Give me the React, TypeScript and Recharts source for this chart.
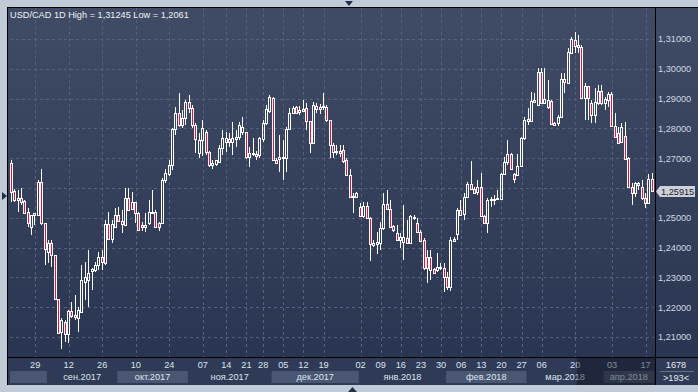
import { ComposedChart, Bar, XAxis, YAxis, CartesianGrid, ReferenceLine } from 'recharts';

// USD/CAD daily candles, 22.08.2017 - 19.04.2018
const OPEN = [
  1.2684, 1.2590, 1.2560, 1.2566, 1.2556, 1.2520, 1.2469, 1.2509, 1.2509, 1.2620,
  1.2483, 1.2385, 1.2415, 1.2375, 1.2228, 1.2117, 1.2150, 1.2110, 1.2187, 1.2174,
  1.2164, 1.2184, 1.2285, 1.2291, 1.2322, 1.2325, 1.2342, 1.2368, 1.2348, 1.2479,
  1.2429, 1.2469, 1.2509, 1.2489, 1.2476, 1.2566, 1.2530, 1.2553, 1.2516, 1.2476,
  1.2469, 1.2483, 1.2516, 1.2520, 1.2483, 1.2483, 1.2627, 1.2647, 1.2677, 1.2798,
  1.2852, 1.2812, 1.2835, 1.2889, 1.2869, 1.2812, 1.2718, 1.2761, 1.2788, 1.2721,
  1.2677, 1.2681, 1.2687, 1.2734, 1.2754, 1.2765, 1.2754, 1.2765, 1.2771, 1.2788,
  1.2788, 1.2704, 1.2718, 1.2714, 1.2711, 1.2765, 1.2818, 1.2858, 1.2902, 1.2694,
  1.2697, 1.2701, 1.2701, 1.2798, 1.2852, 1.2872, 1.2855, 1.2858, 1.2869, 1.2825,
  1.2751, 1.2875, 1.2865, 1.2872, 1.2872, 1.2828, 1.2744, 1.2721, 1.2724, 1.2728,
  1.2694, 1.2644, 1.2570, 1.2570, 1.2536, 1.2506, 1.2540, 1.2499, 1.2409, 1.2412,
  1.2415, 1.2466, 1.2546, 1.2530, 1.2473, 1.2449, 1.2426, 1.2419, 1.2432, 1.2415,
  1.2499, 1.2483, 1.2452, 1.2426, 1.2368, 1.2368, 1.2328, 1.2325, 1.2332, 1.2332,
  1.2301, 1.2268, 1.2422, 1.2446, 1.2526, 1.2513, 1.2570, 1.2613, 1.2597, 1.2587,
  1.2603, 1.2506, 1.2483, 1.2560, 1.2560, 1.2563, 1.2563, 1.2647, 1.2687, 1.2714,
  1.2647, 1.2644, 1.2674, 1.2768, 1.2832, 1.2825, 1.2889, 1.2879, 1.2989, 1.2885,
  1.2872, 1.2892, 1.2818, 1.2818, 1.2838, 1.2966, 1.2952, 1.3053, 1.3097, 1.3080,
  1.3073, 1.2902, 1.2942, 1.2885, 1.2845, 1.2885, 1.2926, 1.2885, 1.2895, 1.2916,
  1.2808, 1.2785, 1.2754, 1.2775, 1.2701, 1.2603, 1.2583, 1.2610, 1.2603, 1.2566,
  1.2550, 1.2630,
];
const HIGH = [
  1.2694, 1.2597, 1.2593, 1.2600, 1.2560, 1.2533, 1.2509, 1.2516, 1.2627, 1.2664,
  1.2483, 1.2426, 1.2426, 1.2375, 1.2228, 1.2164, 1.2157, 1.2191, 1.2218, 1.2241,
  1.2201, 1.2342, 1.2352, 1.2392, 1.2332, 1.2352, 1.2385, 1.2392, 1.2493, 1.2520,
  1.2493, 1.2533, 1.2536, 1.2526, 1.2600, 1.2600, 1.2587, 1.2553, 1.2520, 1.2486,
  1.2516, 1.2560, 1.2593, 1.2526, 1.2486, 1.2633, 1.2664, 1.2694, 1.2801, 1.2872,
  1.2919, 1.2862, 1.2895, 1.2912, 1.2879, 1.2818, 1.2785, 1.2828, 1.2795, 1.2724,
  1.2694, 1.2694, 1.2744, 1.2795, 1.2788, 1.2785, 1.2822, 1.2795, 1.2822, 1.2838,
  1.2788, 1.2738, 1.2768, 1.2724, 1.2771, 1.2828, 1.2879, 1.2912, 1.2905, 1.2701,
  1.2778, 1.2761, 1.2805, 1.2869, 1.2875, 1.2875, 1.2875, 1.2895, 1.2885, 1.2825,
  1.2889, 1.2885, 1.2882, 1.2919, 1.2879, 1.2828, 1.2751, 1.2744, 1.2744, 1.2744,
  1.2701, 1.2664, 1.2583, 1.2587, 1.2550, 1.2553, 1.2553, 1.2503, 1.2426, 1.2452,
  1.2486, 1.2583, 1.2593, 1.2560, 1.2476, 1.2476, 1.2449, 1.2543, 1.2493, 1.2509,
  1.2509, 1.2499, 1.2459, 1.2432, 1.2392, 1.2392, 1.2332, 1.2382, 1.2348, 1.2348,
  1.2318, 1.2436, 1.2436, 1.2533, 1.2560, 1.2583, 1.2620, 1.2691, 1.2603, 1.2627,
  1.2650, 1.2509, 1.2566, 1.2570, 1.2577, 1.2593, 1.2650, 1.2704, 1.2761, 1.2718,
  1.2650, 1.2714, 1.2771, 1.2838, 1.2869, 1.2922, 1.2919, 1.3003, 1.3003, 1.3003,
  1.2963, 1.2895, 1.2822, 1.2845, 1.2986, 1.2986, 1.3070, 1.3107, 1.31245, 1.3114,
  1.3080, 1.2952, 1.2942, 1.2895, 1.2936, 1.2946, 1.2946, 1.2905, 1.2922, 1.2922,
  1.2852, 1.2805, 1.2818, 1.2822, 1.2704, 1.2617, 1.2620, 1.2620, 1.2627, 1.2583,
  1.2647, 1.2650,
];
const LOW = [
  1.2553, 1.2553, 1.2520, 1.2543, 1.2516, 1.2469, 1.2442, 1.2476, 1.2509, 1.2476,
  1.2342, 1.2348, 1.2335, 1.2224, 1.2110, 1.2061, 1.2083, 1.2080, 1.2164, 1.2157,
  1.2117, 1.2181, 1.2224, 1.2201, 1.2258, 1.2318, 1.2325, 1.2325, 1.2342, 1.2426,
  1.2415, 1.2466, 1.2486, 1.2449, 1.2473, 1.2523, 1.2526, 1.2483, 1.2456, 1.2456,
  1.2452, 1.2476, 1.2513, 1.2466, 1.2456, 1.2479, 1.2617, 1.2640, 1.2661, 1.2778,
  1.2805, 1.2801, 1.2812, 1.2852, 1.2801, 1.2718, 1.2701, 1.2707, 1.2711, 1.2671,
  1.2664, 1.2674, 1.2684, 1.2711, 1.2721, 1.2738, 1.2711, 1.2738, 1.2761, 1.2778,
  1.2697, 1.2671, 1.2707, 1.2694, 1.2701, 1.2754, 1.2812, 1.2852, 1.2691, 1.2681,
  1.2654, 1.2627, 1.2654, 1.2795, 1.2852, 1.2848, 1.2845, 1.2855, 1.2795, 1.2718,
  1.2751, 1.2852, 1.2848, 1.2862, 1.2822, 1.2701, 1.2701, 1.2711, 1.2704, 1.2684,
  1.2640, 1.2570, 1.2516, 1.2570, 1.2503, 1.2499, 1.2496, 1.2355, 1.2402, 1.2379,
  1.2392, 1.2459, 1.2526, 1.2466, 1.2452, 1.2422, 1.2399, 1.2359, 1.2412, 1.2412,
  1.2493, 1.2449, 1.2419, 1.2325, 1.2281, 1.2291, 1.2315, 1.2318, 1.2325, 1.2251,
  1.2258, 1.2254, 1.2419, 1.2426, 1.2506, 1.2493, 1.2566, 1.2593, 1.2583, 1.2577,
  1.2503, 1.2483, 1.2449, 1.2536, 1.2543, 1.2560, 1.2560, 1.2644, 1.2677, 1.2661,
  1.2617, 1.2640, 1.2671, 1.2761, 1.2812, 1.2822, 1.2885, 1.2875, 1.2882, 1.2885,
  1.2865, 1.2812, 1.2812, 1.2808, 1.2838, 1.2919, 1.2952, 1.3050, 1.3053, 1.3053,
  1.2899, 1.2828, 1.2828, 1.2818, 1.2818, 1.2879, 1.2879, 1.2862, 1.2872, 1.2805,
  1.2771, 1.2751, 1.2751, 1.2694, 1.2600, 1.2543, 1.2570, 1.2593, 1.2560, 1.2533,
  1.2546, 1.2590,
];
const CLOSE = [
  1.2587, 1.2560, 1.2566, 1.2553, 1.2516, 1.2483, 1.2509, 1.2516, 1.2620, 1.2483,
  1.2395, 1.2415, 1.2375, 1.2228, 1.2113, 1.2157, 1.2110, 1.2187, 1.2170, 1.2167,
  1.2191, 1.2291, 1.2301, 1.2315, 1.2328, 1.2342, 1.2368, 1.2352, 1.2479, 1.2429,
  1.2479, 1.2509, 1.2489, 1.2479, 1.2566, 1.2526, 1.2553, 1.2516, 1.2459, 1.2469,
  1.2476, 1.2520, 1.2520, 1.2469, 1.2469, 1.2627, 1.2650, 1.2677, 1.2798, 1.2852,
  1.2812, 1.2835, 1.2889, 1.2869, 1.2812, 1.2765, 1.2761, 1.2801, 1.2721, 1.2677,
  1.2684, 1.2694, 1.2734, 1.2768, 1.2768, 1.2754, 1.2768, 1.2771, 1.2812, 1.2805,
  1.2704, 1.2718, 1.2714, 1.2707, 1.2768, 1.2818, 1.2865, 1.2905, 1.2694, 1.2684,
  1.2704, 1.2704, 1.2798, 1.2852, 1.2869, 1.2852, 1.2862, 1.2865, 1.2825, 1.2751,
  1.2879, 1.2865, 1.2872, 1.2875, 1.2828, 1.2744, 1.2721, 1.2724, 1.2718, 1.2691,
  1.2644, 1.2570, 1.2573, 1.2583, 1.2506, 1.2540, 1.2499, 1.2412, 1.2415, 1.2419,
  1.2466, 1.2546, 1.2530, 1.2469, 1.2459, 1.2426, 1.2436, 1.2436, 1.2415, 1.2506,
  1.2503, 1.2452, 1.2422, 1.2332, 1.2332, 1.2325, 1.2315, 1.2335, 1.2335, 1.2301,
  1.2268, 1.2426, 1.2429, 1.2526, 1.2509, 1.2570, 1.2613, 1.2597, 1.2583, 1.2603,
  1.2506, 1.2483, 1.2560, 1.2563, 1.2563, 1.2566, 1.2647, 1.2687, 1.2714, 1.2664,
  1.2630, 1.2674, 1.2768, 1.2828, 1.2825, 1.2892, 1.2895, 1.2989, 1.2885, 1.2899,
  1.2895, 1.2815, 1.2812, 1.2838, 1.2966, 1.2956, 1.3056, 1.3100, 1.3077, 1.3073,
  1.2902, 1.2942, 1.2902, 1.2845, 1.2889, 1.2926, 1.2885, 1.2899, 1.2916, 1.2808,
  1.2771, 1.2751, 1.2805, 1.2697, 1.2603, 1.2583, 1.2617, 1.2617, 1.2566, 1.2550,
  1.2630, 1.25915,
];

// date strip: bar index of each day label
const TICK_IDX = [7, 17, 27, 37, 47, 57, 64, 70, 75, 81, 87, 93, 104, 110, 116, 122, 128, 134, 140, 146, 152, 158, 168, 179, 189];
const TICK_TEXT = ['29', '12', '26', '10', '24', '07', '14', '21', '28', '05', '12', '19', '02', '09', '16', '23', '30', '06', '13', '20', '27', '06', '20', '03', '17'];
const MONTH_START = [0, 11, 32, 53, 78, 104, 130, 154, 177];
const MONTH_NAME = ['', 'сен.2017', 'окт.2017', 'ноя.2017', 'дек.2017', 'янв.2018', 'фев.2018', 'мар.2018', 'апр.2018'];
const MONTH_LIGHT = [true, false, true, false, true, false, true, false, true];
const Y_TICKS = [1.21, 1.22, 1.23, 1.24, 1.25, 1.26, 1.27, 1.28, 1.29, 1.30, 1.31];
const DIM_FROM = 169;

const FONT = "'Liberation Sans', Arial, sans-serif";
const FS = 9.2;
const RED = '#e8103c';
const GRID = '#56627c';
const FRAME = '#c1cad7';
const BAND = '#4a5772';
const TAG = '#cdd1d8';

const data = OPEN.map((o, i) => ({
  idx: i,
  open: o,
  high: HIGH[i],
  low: LOW[i],
  close: CLOSE[i],
  range: [LOW[i], HIGH[i]],
}));
const N = data.length;
const last = CLOSE[N - 1];
const fmt = (v: number) => v.toFixed(5).replace('.', ',');

function Candle(props: any) {
  const { x, y, width, height } = props;
  const p = props.payload || data[props.index];
  if (!p || !height) return null;
  const k = height / (p.high - p.low);
  const cx = Math.floor(x + width / 2) + 0.5;
  const yO = y + (p.high - p.open) * k;
  const yC = y + (p.high - p.close) * k;
  const top = Math.round(Math.min(yO, yC));
  const bot = Math.round(Math.max(yO, yC));
  const yh = Math.round(y);
  const yl = Math.round(y + height);
  const down = p.close < p.open;
  return (
    <g>
      {top > yh && <line x1={cx} x2={cx} y1={yh} y2={top} stroke="#fff" />}
      {yl > bot && <line x1={cx} x2={cx} y1={bot} y2={yl} stroke="#fff" />}
      <rect x={cx - 1} y={top + 0.5} width={2} height={Math.max(bot - top, 1)} fill={down ? RED : 'none'} stroke="#fff" />
    </g>
  );
}

function DateTick(props: any) {
  const { x, y, payload } = props;
  const i = payload.value;
  const bw = payload.offset ? payload.offset * 2 : 644 / N;
  const left = x - bw / 2;
  const out: any[] = [];
  const m = MONTH_START.indexOf(i);
  if (m >= 0) {
    const end = m + 1 < MONTH_START.length ? MONTH_START[m + 1] : N;
    const w = (end - i) * bw;
    if (MONTH_LIGHT[m]) out.push(<rect key="b" x={left} y={y + 14} width={w} height={12} fill={BAND} />);
    if (MONTH_NAME[m])
      out.push(
        <text key="m" x={left + w / 2} y={y + 22.5} textAnchor="middle" fontSize={FS} fontFamily={FONT} fill="#dde3ec">
          {MONTH_NAME[m]}
        </text>
      );
  }
  const t = TICK_IDX.indexOf(i);
  if (t >= 0)
    out.push(
      <text key="d" x={x} y={y + 11.3} textAnchor="middle" fontSize={FS} fontFamily={FONT} fill="#dde3ec">
        {TICK_TEXT[t]}
      </text>
    );
  if (i === N - 1) {
    // greyed scroller over the last weeks of the date strip
    const x0 = left - (N - 1 - DIM_FROM) * bw;
    out.push(<rect key="o" x={x0} y={y + 1} width={x + bw / 2 - x0 + 1} height={27} fill="rgba(14,18,30,0.45)" />);
  }
  if (!out.length) return null;
  return <g>{out}</g>;
}

// price scale label; the one hidden under the last-price tag is not drawn
function PriceTick(props: any) {
  const { x, y, payload } = props;
  const v = payload.value;
  if (Math.abs(v - last) < 0.004) return null;
  return (
    <text x={x} y={y + 3.3} fontSize={FS} fontFamily={FONT} fill="#cfd6e1">
      {fmt(v)}
    </text>
  );
}

function PriceTag(props: any) {
  const vb = props.viewBox || {};
  const x = vb.x + vb.width;
  const y = Math.round(vb.y) + 0.5;
  return (
    <g>
      <polygon points={`${x + 2},${y} ${x + 6},${y - 5.5} ${x + 6},${y + 5.5}`} fill={TAG} />
      <rect x={x + 6} y={y - 5.5} width={35} height={11} fill={TAG} />
      <text x={x + 7} y={y + 3.3} fontSize={FS} fontFamily={FONT} fill="#1c2130">
        {fmt(last)}
      </text>
    </g>
  );
}

const gridX = ({ xAxis, offset }: any) => {
  try {
    const s = xAxis?.scale;
    if (s && typeof s.bandwidth === 'function') return TICK_IDX.map((i) => Math.round(s(i) + s.bandwidth() / 2) + 0.5);
  } catch (e) {}
  return TICK_IDX.map((i) => Math.round(offset.left + ((i + 0.5) * offset.width) / N) + 0.5);
};

const gridY = ({ yAxis, offset }: any) => {
  try {
    const s = yAxis?.scale;
    if (s) return Y_TICKS.map((v) => Math.round(s(v)) + 0.5);
  } catch (e) {}
  return Y_TICKS.map((v) => Math.round(offset.top + ((1.3204 - v) / (1.3204 - 1.2033)) * offset.height) + 0.5);
};

export default function App() {
  return (
    <div style={{ position: 'absolute', left: 0, top: 0, width: 698, height: 392, background: FRAME, overflow: 'hidden', fontFamily: FONT }}>
      <div style={{ position: 'absolute', left: 7, top: 7, width: 691, height: 378, background: '#2e3a56', borderLeft: '1px solid #000', borderTop: '1px solid #000', boxSizing: 'border-box' }} />
      <div style={{ position: 'absolute', left: 8, top: 8, width: 690, height: 349, background: 'linear-gradient(#404c66, #2a3651)' }} />
      <div style={{ position: 'absolute', left: 655, top: 8, width: 1, height: 377, background: '#000' }} />
      <div style={{ position: 'absolute', left: 8, top: 357, width: 690, height: 1, background: '#000' }} />

      <div style={{ position: 'absolute', left: 0, top: 0 }}>
        <ComposedChart width={698} height={392} data={data} margin={{ top: 8, right: 0, left: 10, bottom: 0 }} barCategoryGap={0}>
          <CartesianGrid
            stroke={GRID}
            strokeDasharray="3 3"
            verticalCoordinatesGenerator={gridX}
            horizontalCoordinatesGenerator={gridY}
          />
          <XAxis
            dataKey="idx"
            type="category"
            interval={0}
            height={35}
            axisLine={false}
            tickLine={false}
            tickSize={0}
            tickMargin={0}
            tick={<DateTick />}
          />
          <YAxis
            orientation="right"
            type="number"
            domain={[1.2033, 1.3204]}
            ticks={Y_TICKS}
            width={44}
            axisLine={false}
            tickLine={false}
            tickSize={0}
            tickMargin={4}
            tick={<PriceTick />}
          />
          <Bar dataKey="range" shape={<Candle />} isAnimationActive={false} />
          <ReferenceLine y={last} stroke="none" ifOverflow="visible" label={<PriceTag />} />
        </ComposedChart>
      </div>

      <svg width={698} height={392} style={{ position: 'absolute', left: 0, top: 0, pointerEvents: 'none' }}>
        <text x={10} y={17.5} fontSize={FS} fontFamily={FONT} fill="#eef1f5">
          USD/CAD 1D High = 1,31245 Low = 1,2061
        </text>
        <text x={676} y={368} textAnchor="middle" fontSize={FS} fontFamily={FONT} fill="#e6eaf0">1678</text>
        <line x1={660} x2={694} y1={371.5} y2={371.5} stroke="#66728a" />
        <text x={676} y={381} textAnchor="middle" fontSize={FS} fontFamily={FONT} fill="#e6eaf0">&gt;193&lt;</text>
        <polygon points="345,1 353,1 349,6" fill="#263049" />
        <polygon points="2,192 2,200 7,196" fill="#263049" />
        <polygon points="348,392 357,392 352.5,387" fill="#263049" />
      </svg>
    </div>
  );
}
